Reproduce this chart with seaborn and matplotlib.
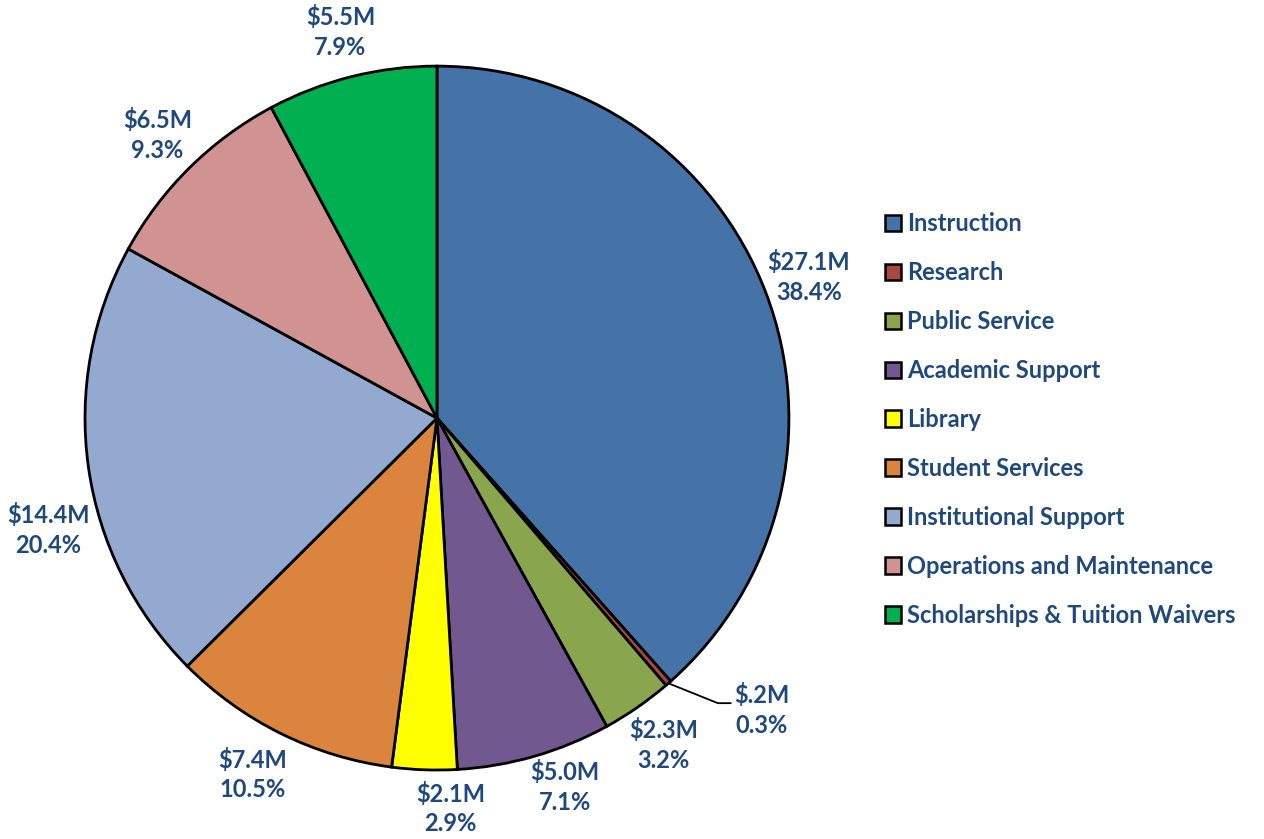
import numpy as np
import seaborn as sns
import matplotlib.pyplot as plt
from matplotlib.patches import Patch

# Expenditure by function (millions of dollars)
categories = ['Instruction', 'Research', 'Public Service', 'Academic Support', 'Library',
              'Student Services', 'Institutional Support', 'Operations and Maintenance',
              'Scholarships & Tuition Waivers']
amounts = [27.1, 0.2, 2.3, 5.0, 2.1, 7.4, 14.4, 6.5, 5.5]
amount_labels = ['$27.1M', '$.2M', '$2.3M', '$5.0M', '$2.1M', '$7.4M', '$14.4M', '$6.5M', '$5.5M']
pct_labels = ['38.4%', '0.3%', '3.2%', '7.1%', '2.9%', '10.5%', '20.4%', '9.3%', '7.9%']
colors = ['#4572A7', '#AA4643', '#89A54E', '#71588F', '#FFFF00',
          '#DB843D', '#93A9CF', '#D19392', '#00B050']

sns.set_theme(style='white')
plt.rcParams['font.family'] = ['Lato', 'DejaVu Sans']
text_color = '#1F497D'
palette = sns.color_palette(colors)
fs = 17

fig = plt.figure(figsize=(12.64, 8.39), dpi=100)
ax = fig.add_axes([0.0672, 0.0822, 0.557, 0.839])

wedges, _ = ax.pie(amounts, colors=palette, startangle=90, counterclock=False,
                   wedgeprops=dict(edgecolor='black', linewidth=2.0))
ax.set_aspect('equal')
ax.set_xlim(-1, 1)
ax.set_ylim(-1, 1)

# label placement tweaks (angle shift in degrees, radius)
tweaks = {3: (3, 1.11), 4: (4, 1.11), 5: (-1, 1.14), 6: (8, 1.15)}
for i, w in enumerate(wedges):
    mid = (w.theta1 + w.theta2) / 2
    txt = amount_labels[i] + '\n' + pct_labels[i]
    if i == 1:
        # small slice: leader line from the edge out to the label
        a = np.deg2rad(mid)
        x0, y0 = np.cos(a), np.sin(a)
        ax.plot([x0, 0.798, 0.835], [y0, -0.81, -0.81], color='black', lw=1.3,
                clip_on=False)
        ax.text(0.923, -0.83, txt, ha='center', va='center', fontsize=fs,
                fontweight='bold', color=text_color, linespacing=1.35)
        continue
    shift, r = tweaks.get(i, (0, 1.13))
    a = np.deg2rad(mid + shift)
    ax.text(r * np.cos(a), r * np.sin(a), txt, ha='center', va='center',
            fontsize=fs, fontweight='bold', color=text_color, linespacing=1.35)

handles = [Patch(facecolor=c, edgecolor='black', linewidth=1.8) for c in colors]
leg = fig.legend(handles, categories, loc='center left', bbox_to_anchor=(0.683, 0.5),
                 frameon=False, handlelength=0.7, handleheight=0.7, handletextpad=0.25,
                 labelspacing=1.1, prop=dict(size=fs, weight='bold'))
for t in leg.get_texts():
    t.set_color(text_color)

fig.savefig('out.png', dpi=100, facecolor='white')
